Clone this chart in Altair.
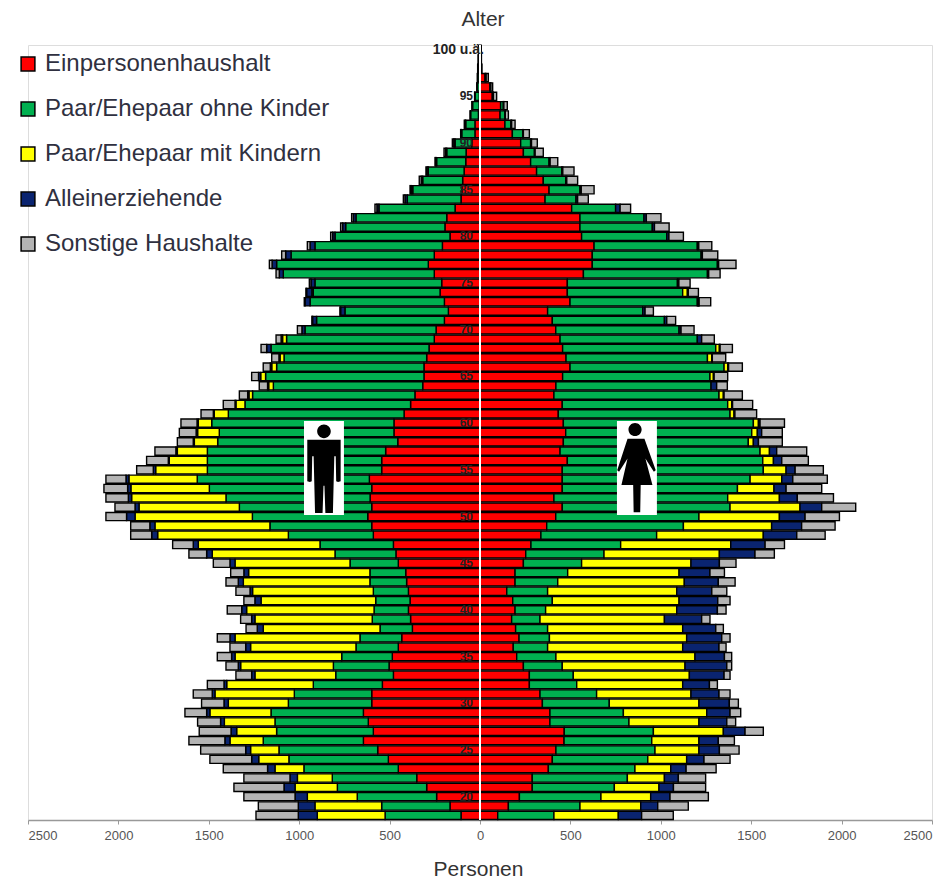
import altair as alt
import pandas as pd

series = ["Einpersonenhaushalt", "Paar/Ehepaar ohne Kinder", "Paar/Ehepaar mit Kindern", "Alleinerziehende", "Sonstige Haushalte"]
colors = ["#FF0000", "#00B050", "#FFFF00", "#0A2470", "#B4B4B4"]
ages = list(range(18, 101))

# outer edge of each household block per age 18..100 (persons)
m_red = [105,166,240,295,350,452,507,566,645,590, 618,645,599,599,540,479,503,485,452,433, 374,384,396,387,396,406,411,452,465,479,
         590,599,621,599,608,599,612,544,544,522, 455,476,476,420,384,360,317,310,310,295, 282,253,243,197,175,197,221,212,253,286,
         253,208,166,194,184,138,105,101,96,88, 79,77,46,28,28,9,5,4,3,2, 2,1,1]
m_green = [525,544,679,789,817,974,1057,1112,1199,1125, 1134,1156,1060,1027,922,798,811,765,686,664, 553,596,586,577,590,609,609,719,802,885,
           1060,1162,1259,1331,1405,1497,1564,1508,1508,1508, 1451,1442,1484,1392,1300,1258,1143,1186,1125,1084, 1156,1070,968,904,747,940,922,913,1088,1125,
           1045,913,802,743,686,559,402,372,317,286, 240,184,138,101,79,52,41,28,15,12, 10,8,5]
m_yellow = [900,913,955,1023,1010,1134,1224,1269,1383,1346, 1414,1494,1392,1466,1401,1245,1324,1355,1269,1355, 1199,1245,1291,1211,1258,1309,1280,1355,1481,1558,
            1783,1798,1908,1886,1927,1931,1942,1794,1719,1674, 1580,1562,1558,1470,1350,1278,1169,1213,1152,1106, 1156,1092,968,904,747,940,930,913,1088,1125,
            1045,913,802,743,686,559,402,372,317,286, 240,184,138,101,79,52,41,28,15,12, 10,8,5]
m_navy = [1005,1005,1023,1084,1051,1175,1263,1296,1411,1377, 1435,1512,1416,1481,1416,1263,1337,1374,1296,1383, 1232,1263,1318,1245,1272,1337,1306,1383,1512,1586,
          1816,1826,1955,1908,1945,1949,1958,1807,1724,1682, 1586,1570,1565,1475,1355,1285,1175,1225,1160,1112, 1180,1100,985,926,771,968,959,935,1110,1150,
          1075,940,815,760,700,570,415,380,325,292, 245,190,145,104,83,53,43,29,16,13, 11,9,6]
m_gray = [1239,1226,1306,1361,1306,1420,1494,1545,1610,1553, 1562,1632,1540,1586,1508,1350,1405,1453,1383,1453, 1294,1324,1398,1306,1350,1405,1379,1475,1610,1700,
          1932,1932,2069,2019,2069,2080,2069,1899,1844,1798, 1674,1663,1654,1543,1420,1331,1221,1263,1199,1152, 1211,1128,1010,930,775,972,963,944,1128,1165,
          1097,955,826,771,710,581,424,387,336,299, 249,199,153,107,87,55,45,30,18,15, 13,10,7]

f_red = [98,157,218,289,289,378,400,420,465,466, 387,387,345,332,273,273,240,203,184,216, 197,175,194,181,148,194,194,240,253,282,
         337,369,419,455,409,455,455,455,483,443, 461,474,461,433,455,409,420,457,498,476, 457,443,419,400,374,498,483,483,572,621,
         621,631,562,553,553,507,360,382,350,313, 280,240,225,179,138,111,114,68,55,28, 8,6,5]
f_green = [409,553,669,743,815,857,928,968,950,959, 824,793,715,645,535,516,455,420,374,384, 374,332,363,400,374,430,485,562,686,778,
           977,1125,1211,1383,1370,1424,1494,1567,1564,1549, 1484,1503,1512,1383,1370,1322,1278,1272,1350,1258, 1304,1202,1101,1020,900,1202,1121,1092,1258,1313,
           1223,1202,1033,953,907,750,531,553,474,452, 382,301,280,236,171,138,129,72,58,30, 9,7,6]
f_yellow = [765,889,944,990,1020,1055,1143,1211,1211,1346, 1211,1254,1211,1167,1121,1158,1134,1189,1121,1143, 1121,1020,1088,1101,1088,1130,1101,1167,1324,1387,
            1567,1613,1656,1770,1656,1626,1669,1693,1623,1601, 1512,1534,1540,1405,1392,1346,1278,1291,1370,1282, 1324,1202,1101,1020,900,1208,1147,1092,1258,1313,
            1223,1202,1033,953,907,750,531,553,474,452, 382,301,280,236,171,138,129,72,58,30, 9,7,6]
f_navy = [894,983,1051,1070,1097,1140,1239,1324,1318,1466, 1365,1383,1379,1322,1269,1350,1365,1352,1322,1337, 1304,1226,1313,1315,1282,1318,1272,1324,1521,1577,
          1752,1779,1798,1890,1755,1693,1730,1743,1669,1641, 1540,1558,1549,1410,1397,1350,1309,1295,1375,1285, 1328,1226,1112,1033,913,1212,1152,1100,1265,1320,
          1230,1210,1045,965,920,775,540,560,480,458, 388,305,285,240,175,140,132,74,60,34, 9,7,6]
f_gray = [1069,1152,1263,1248,1248,1306,1383,1433,1407,1567, 1414,1442,1429,1383,1313,1383,1392,1392,1361,1383, 1346,1272,1361,1383,1365,1411,1352,1416,1628,1684,
          1909,1964,1988,2078,1955,1890,1921,1899,1816,1807, 1672,1672,1684,1530,1508,1451,1368,1370,1451,1359, 1396,1296,1184,1082,959,1276,1208,1162,1328,1416,
          1315,1282,1125,1046,1001,833,599,631,540,520, 430,350,317,273,194,157,151,92,70,46, 10,8,7]

age_labels = [20, 25, 30, 35, 40, 45, 50, 55, 60, 65, 70, 75, 80, 85, 90, 95]
x_ticks = [-2500, -2000, -1500, -1000, -500, 0, 500, 1000, 1500, 2000, 2500]

man_path = ("M-.145 -.78A.145 .145 0 1 1 .145 -.78A.145 .145 0 1 1 -.145 -.78Z"
            "M-.355 -.6L.355 -.6L.355 .28L.30 .30L.26 .28L.25 -.25L.22 -.25L.19 .96L.03 .96L.01 .38L-.01 .38"
            "L-.03 .96L-.19 .96L-.22 -.25L-.25 -.25L-.26 .28L-.30 .30L-.355 .28Z")
woman_path = ("M-.18 -.82A.14 .14 0 1 1 .1 -.82A.14 .14 0 1 1 -.18 -.82Z"
              "M-.2 -.62L.16 -.62L.40 .05L.36 .08L.18 -.2L.33 .36L.08 .36L.07 .94L-.07 .94L-.08 .36L-.33 .36L-.2 -.2L-.38 .08L-.42 .05Z")
card_path = "M-.425 -1L.425 -1L.425 1L-.425 1Z"

rows = []
for sign, edges in ((-1, [m_red, m_green, m_yellow, m_navy, m_gray]), (1, [f_red, f_green, f_yellow, f_navy, f_gray])):
    for i, a in enumerate(ages):
        prev = 0
        for k, name in enumerate(series):
            e = edges[k][i]
            if e > prev:
                rows.append({"age": a, "series": name, "start": sign * prev, "end": sign * e})
                prev = e
df = pd.DataFrame(rows)

font = "Liberation Sans"
x_scale = alt.Scale(domain=[-2500, 2500], nice=False)
y_enc = alt.Y("age:O", sort="descending", scale=alt.Scale(domain=ages[::-1], paddingInner=0.12, paddingOuter=0.06), axis=None)

bars = alt.Chart(df).mark_bar(stroke="#000000", strokeWidth=1.4).encode(
    x=alt.X("start:Q", scale=x_scale,
            axis=alt.Axis(values=x_ticks, labelExpr="abs(datum.value)", grid=False, title="Personen",
                          titleFont=font, titleFontSize=21, titleFontWeight="normal", titleColor="#333333", titlePadding=16, titleX=450,
                          labelFont=font, labelFontSize=13, labelColor="#555555", labelPadding=5,
                          domainColor="#999999", domainWidth=1.5, tickColor="#999999", tickSize=4)),
    x2="end:Q",
    y=y_enc,
    color=alt.Color("series:N", scale=alt.Scale(domain=series, range=colors),
                    legend=alt.Legend(orient="none", legendX=-12, legendY=7, title=None, symbolType="square", symbolSize=190,
                                      symbolStrokeColor="#000000", symbolStrokeWidth=1.5, symbolOpacity=1,
                                      labelFont=font, labelFontSize=24, labelColor="#2f3040", rowPadding=21, labelOffset=5,
                                      labelLimit=400)),
)

center = alt.Chart(pd.DataFrame({"x": [0]})).mark_rule(color="#FFFFFF", strokeWidth=2).encode(x=alt.X("x:Q", scale=x_scale))

lab = pd.DataFrame({"age": age_labels, "x": [0] * len(age_labels), "text": [str(a) for a in age_labels]})
labels = alt.Chart(lab).mark_text(align="right", baseline="middle", dx=-7, font=font, fontSize=12, fontWeight="bold", color="#222222").encode(
    x=alt.X("x:Q", scale=x_scale), y=y_enc, text="text:N")
top_lab = alt.Chart(pd.DataFrame({"age": [100], "x": [0], "text": ["100 u.ä."]})).mark_text(
    align="right", baseline="middle", dx=4, font=font, fontSize=14, fontWeight="bold", color="#222222").encode(
    x=alt.X("x:Q", scale=x_scale), y=y_enc, text="text:N")

def icon(path, x_value, fill):
    return alt.Chart(pd.DataFrame({"x": [x_value]})).mark_point(
        shape=path, filled=True, fill=fill, stroke=None, opacity=1, size=8836).encode(
        x=alt.X("x:Q", scale=x_scale), y=alt.value(423))

chart = alt.layer(
    bars, center, labels, top_lab,
    icon(card_path, -863, "#FFFFFF"), icon(man_path, -863, "#000000"),
    icon(card_path, 868, "#FFFFFF"), icon(woman_path, 868, "#000000"),
).properties(
    width=904, height=775,
    title=alt.TitleParams("Alter", anchor="middle", dx=3, font=font, fontSize=21, fontWeight="normal", color="#333333", offset=13),
    padding={"left": 20, "top": 37, "right": 4, "bottom": 60},
    background="#FFFFFF",
).configure_view(strokeWidth=0).configure(autosize=alt.AutoSizeParams(type="none"))

chart.save("out.html", embed_options={"renderer": "svg", "actions": False})
